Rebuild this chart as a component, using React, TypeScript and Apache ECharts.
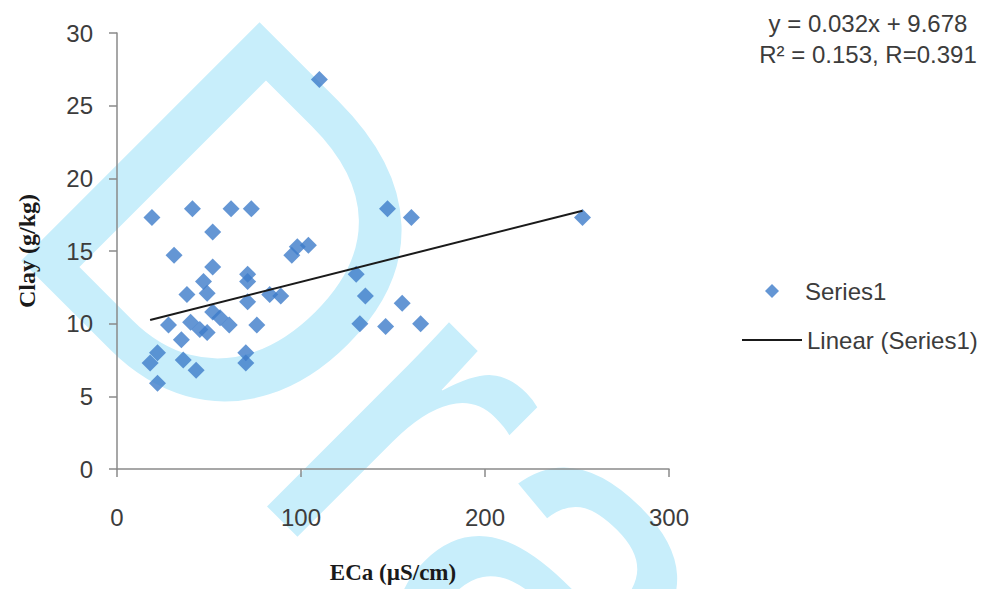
import React, { useEffect, useRef } from "react";
import * as echarts from "echarts";

// ECa (µS/cm)
const ecaValues: number[] = [
  19, 41, 62, 73, 52, 31, 52, 110, 147, 160, 253, 95, 98, 104, 130, 135, 155, 132, 146, 165,
  83, 89, 47, 38, 49, 71, 71, 71, 28, 40, 45, 49, 56, 61, 76, 35, 22, 18, 36, 43, 70, 70, 22, 52,
];
// Clay (g/kg)
const clayValues: number[] = [
  17.3, 17.9, 17.9, 17.9, 16.3, 14.7, 13.9, 26.8, 17.9, 17.3, 17.3, 14.7, 15.3, 15.4, 13.4, 11.9, 11.4, 10.0, 9.8, 10.0,
  12.0, 11.9, 12.9, 12.0, 12.1, 13.4, 12.9, 11.5, 9.9, 10.1, 9.6, 9.4, 10.4, 9.9, 9.9, 8.9, 8.0, 7.3, 7.5, 6.8, 8.0, 7.3, 5.9, 10.8,
];
const trendSlope = 0.032;
const trendIntercept = 9.678;
const equationLines: string[] = ["y = 0.032x + 9.678", "R\u00B2 = 0.153, R=0.391"];
const xTicks = { min: 0, max: 300, interval: 100 };
const yTicks = { min: 0, max: 30, interval: 5 };
const seriesName = "Series1";
const trendName = "Linear (Series1)";

export default function App() {
  const ref = useRef<HTMLDivElement>(null);
  useEffect(() => {
    if (!ref.current) return;
    const chart = echarts.init(ref.current, null, { renderer: "svg" });
    const points = ecaValues.map((x, i) => [x, clayValues[i]]);
    const xMin = Math.min(...ecaValues);
    const xMax = Math.max(...ecaValues);
    const trend = [
      [xMin, trendSlope * xMin + trendIntercept],
      [xMax, trendSlope * xMax + trendIntercept],
    ];
    const font = "Liberation Sans, Arial, sans-serif";
    const axisLine = { show: true, lineStyle: { color: "#8a8a8a", width: 1.5 } };
    const axisTick = { show: true, inside: false, length: 8, lineStyle: { color: "#8a8a8a", width: 1.5 } };
    chart.setOption({
      animation: false,
      backgroundColor: "#ffffff",
      grid: { left: 117, right: 318, top: 33, bottom: 120, containLabel: false, outerBoundsMode: "none" },
      xAxis: {
        type: "value",
        min: xTicks.min,
        max: xTicks.max,
        interval: xTicks.interval,
        name: "ECa (\u00B5S/cm)",
        nameLocation: "middle",
        nameGap: 92,
        nameTextStyle: { fontFamily: "Liberation Serif, Times New Roman, serif", fontWeight: "bold", fontSize: 23, color: "#1a1a1a" },
        axisLine,
        axisTick,
        splitLine: { show: false },
        axisLabel: { fontFamily: font, fontSize: 24, color: "#3c3c3c", margin: 36 },
      },
      yAxis: {
        type: "value",
        min: yTicks.min,
        max: yTicks.max,
        interval: yTicks.interval,
        name: "Clay (g/kg)",
        nameLocation: "middle",
        nameGap: 78,
        nameTextStyle: { fontFamily: "Liberation Serif, Times New Roman, serif", fontWeight: "bold", fontSize: 24, color: "#1a1a1a" },
        axisLine,
        axisTick,
        splitLine: { show: false },
        axisLabel: { fontFamily: font, fontSize: 24, color: "#3c3c3c", margin: 24 },
      },
      legend: [
        {
          data: [{ name: seriesName, icon: "diamond" }],
          left: 760,
          top: 274,
          itemWidth: 14,
          itemHeight: 14,
          textStyle: { fontFamily: font, fontSize: 24, color: "#3c3c3c", padding: [0, 0, 0, 21] },
        },
        {
          data: [{ name: trendName, icon: "rect" }],
          left: 737,
          top: 323,
          itemWidth: 60,
          itemHeight: 2,
          textStyle: { fontFamily: font, fontSize: 24, color: "#3c3c3c" },
        },
      ],
      graphic: [
        {
          type: "text",
          x: 113,
          y: 112,
          rotation: -Math.PI / 4,
          z: -10,
          silent: true,
          style: {
            text: "Draft",
            fontFamily: "Liberation Sans, Arial, sans-serif",
            fontSize: 490,
            fill: "#c8eefb",
            align: "left",
            verticalAlign: "middle",
          },
        },
        {
          type: "text",
          x: 868,
          y: 23,
          style: { text: equationLines[0], fontFamily: font, fontSize: 24, fill: "#3c3c3c", align: "center", verticalAlign: "middle" },
        },
        {
          type: "text",
          x: 868,
          y: 54,
          style: { text: equationLines[1], fontFamily: font, fontSize: 24, fill: "#3c3c3c", align: "center", verticalAlign: "middle" },
        },
      ],
      series: [
        {
          name: seriesName,
          type: "scatter",
          symbol: "diamond",
          symbolSize: 17,
          data: points,
          itemStyle: { color: "#3d7cc9" },
          z: 3,
        },
        {
          name: trendName,
          type: "line",
          data: trend,
          symbol: "none",
          lineStyle: { color: "#1a1a1a", width: 2 },
          itemStyle: { color: "#1a1a1a" },
          z: 4,
        },
      ],
    });
    return () => chart.dispose();
  }, []);
  return <div ref={ref} style={{ position: "fixed", left: 0, top: 0, width: 987, height: 589 }} />;
}
